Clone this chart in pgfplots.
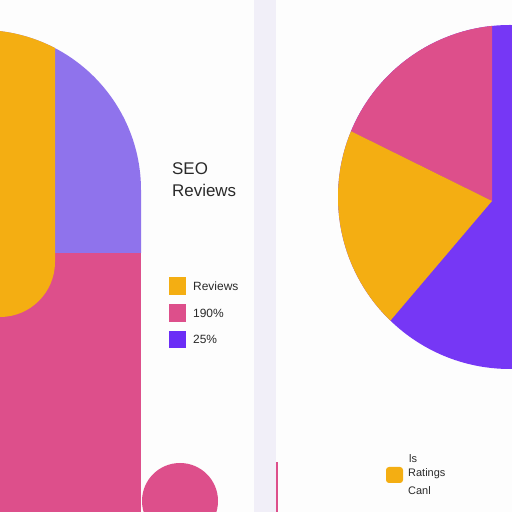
\documentclass[border=0pt]{standalone}
\usepackage{pgfplots}
\pgfplotsset{compat=1.18}
\usepackage{fontspec}
\setmainfont{Liberation Sans}
\definecolor{cOr}{HTML}{F4AE12}
\definecolor{cPk}{HTML}{DD4F8B}
\definecolor{cPuL}{HTML}{8F73EC}
\definecolor{cPuR}{HTML}{7637F5}
\definecolor{cPuG}{HTML}{6B2DF6}
\definecolor{cDiv}{HTML}{F1EFF8}
\definecolor{cBg}{HTML}{FDFDFD}
\definecolor{cTx}{HTML}{2A2A2A}
\begin{document}
\begin{tikzpicture}
\useasboundingbox (0,0) rectangle (512bp,512bp);
\clip (0,0) rectangle (512bp,512bp);
\begin{axis}[at={(0,0)}, anchor=south west, scale only axis, width=512bp, height=512bp,
  xmin=0, xmax=512, ymin=0, ymax=512, hide axis, clip=false]
% background and divider
\addplot[draw=none, fill=cBg] coordinates {(0,0) (512,0) (512,512) (0,512)} -- cycle;
\addplot[draw=none, fill=cDiv] coordinates {(254,0) (276,0) (276,512) (254,512)} -- cycle;
% left composite shape
\addplot[draw=none, fill=cPk] coordinates {(0,0) (141,0) (141,259) (0,259)} -- cycle;
\fill[cPuL] (axis cs:0,259) -- (axis cs:141,259) -- (axis cs:141,322)
   arc[start angle=0, end angle=83.2, radius=160bp] -- cycle;
\fill[cOr] (axis cs:0,195) arc[start angle=-90, end angle=0, radius=55bp]
   -- (axis cs:55,463.9) arc[start angle=62.45, end angle=83.2, radius=160bp] -- cycle;
% bottom pink half disc and thin line
\fill[cPk] (axis cs:180,11) circle[radius=38bp];
\addplot[draw=none, fill=cPk] coordinates {(276,0) (278,0) (278,50) (276,50)} -- cycle;
% title
\node[anchor=base west, font=\fontsize{17}{20}\selectfont, text=cTx, inner sep=0pt] at (axis cs:172,337) {SEO};
\node[anchor=base west, font=\fontsize{17}{20}\selectfont, text=cTx, inner sep=0pt] at (axis cs:172,315) {Reviews};
% left legend
\addplot[draw=none, fill=cOr] coordinates {(169,217) (186,217) (186,235) (169,235)} -- cycle;
\addplot[draw=none, fill=cPk] coordinates {(169,190) (186,190) (186,208) (169,208)} -- cycle;
\addplot[draw=none, fill=cPuG] coordinates {(169,164) (186,164) (186,181) (169,181)} -- cycle;
\node[anchor=west, font=\fontsize{12}{14}\selectfont, text=cTx, inner sep=0pt] at (axis cs:193,226) {Reviews};
\node[anchor=west, font=\fontsize{12}{14}\selectfont, text=cTx, inner sep=0pt] at (axis cs:193,199) {190\%};
\node[anchor=west, font=\fontsize{12}{14}\selectfont, text=cTx, inner sep=0pt] at (axis cs:193,172.5) {25\%};
% right pie
\begin{scope}
\clip (axis cs:510,315) circle[radius=172bp];
\addplot[draw=none, fill=cPuR] coordinates {(300,0) (512,0) (512,512) (300,512)} -- cycle;
\addplot[draw=none, fill=cPk] coordinates {(492,311) (492,512) (300,512) (300,406)} -- cycle;
\addplot[draw=none, fill=cOr] coordinates {(492,311) (300,406) (300,92) (306,92)} -- cycle;
\end{scope}
% bottom-right legend
\fill[cOr, rounded corners=3bp] (axis cs:386,29) rectangle (axis cs:403,45);
\node[anchor=west, font=\fontsize{11}{13}\selectfont, text=cTx, inner sep=0pt] at (axis cs:409,53) {ls};
\node[anchor=west, font=\fontsize{11}{13}\selectfont, text=cTx, inner sep=0pt] at (axis cs:408,38) {Ratings};
\node[anchor=west, font=\fontsize{11}{13}\selectfont, text=cTx, inner sep=0pt] at (axis cs:408,21) {Canl};
\end{axis}
\end{tikzpicture}
\end{document}
